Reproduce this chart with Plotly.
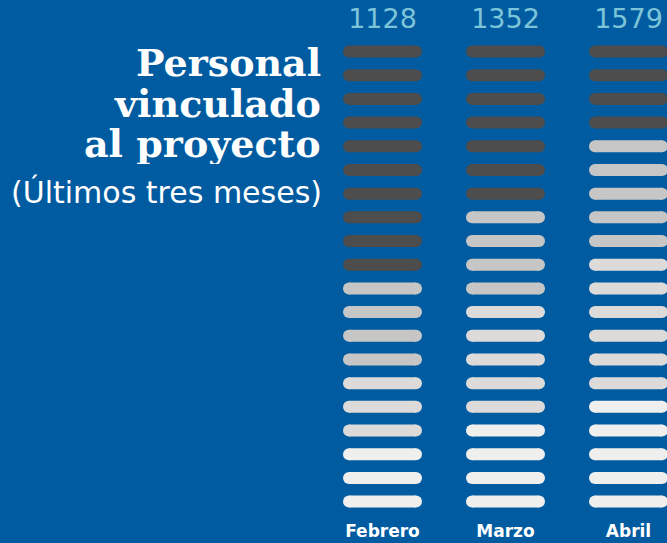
import plotly.graph_objects as go

# ---- data ----
months = ["Febrero", "Marzo", "Abril"]
totals = [1128, 1352, 1579]
# number of bars of each shade per month (top to bottom), 20 bars per column
dark_bars = [10, 7, 4]
mid_bars = [4, 4, 5]
light_bars = [3, 5, 6]
white_bars = [3, 4, 5]

title_lines = ["Personal", "vinculado", "al proyecto"]
subtitle = "(Últimos tres meses)"

# ---- style ----
W, H = 667, 543
BG = "#005ba1"
shade_colors = ["#4d4d4d", "#c6c6c6", "#dcdbd9", "#efefee"]
col_px = 123.0          # px per column unit
row_px = 23.69          # px per row unit
first_col_px = 382.5
first_row_px = 51.5
bar_len_px = 79.0
bar_h_px = 12.0
n_rows = 20

half_inner = (bar_len_px / 2 - bar_h_px / 2) / col_px

fig = go.Figure()

shade_counts = [dark_bars, mid_bars, light_bars, white_bars]
for s, counts in enumerate(shade_counts):
    xs, ys = [], []
    for c in range(len(months)):
        start = sum(shade_counts[k][c] for k in range(s)) + 1
        for r in range(start, start + counts[c]):
            xs += [c - half_inner, c + half_inner, None]
            ys += [r, r, None]
    fig.add_trace(go.Scatter(
        x=xs, y=ys, mode="lines+markers",
        line=dict(color=shade_colors[s], width=bar_h_px),
        marker=dict(color=shade_colors[s], size=bar_h_px, line=dict(width=0)),
        hoverinfo="skip", showlegend=False,
    ))

# totals on top
fig.add_trace(go.Scatter(
    x=list(range(len(months))), y=[1 - 30.5 / row_px] * len(months),
    mode="text", text=[str(t) for t in totals], textposition="middle center",
    textfont=dict(family="DejaVu Sans", size=27, color="#7cc4d8"),
    hoverinfo="skip", showlegend=False,
))
# month labels
fig.add_trace(go.Scatter(
    x=list(range(len(months))), y=[n_rows + 31 / row_px] * len(months),
    mode="text", text=months, textposition="middle center",
    textfont=dict(family="DejaVu Sans", size=17, color="#ffffff", weight="bold"),
    hoverinfo="skip", showlegend=False,
))

# title block
title_centers_px = [62, 103, 143]
title_box_h = [38, 38, 42]
for line, ypx, bh in zip(title_lines, title_centers_px, title_box_h):
    fig.add_annotation(
        x=(323 - first_col_px) / col_px, y=1 + (ypx - first_row_px) / row_px,
        xref="x", yref="y", text=line, showarrow=False,
        xanchor="right", yanchor="middle", height=bh,
        font=dict(family="DejaVu Serif", size=38, color="#ffffff", weight="bold"),
    )
fig.add_annotation(
    x=(324 - first_col_px) / col_px, y=1 + (192 - first_row_px) / row_px,
    xref="x", yref="y", text=subtitle, showarrow=False,
    xanchor="right", yanchor="middle",
    font=dict(family="DejaVu Sans", size=30, color="#ffffff"),
)

fig.update_xaxes(range=[-first_col_px / col_px, (W - first_col_px) / col_px],
                 visible=False, fixedrange=True)
fig.update_yaxes(range=[1 + (H - first_row_px) / row_px, 1 - first_row_px / row_px],
                 visible=False, fixedrange=True)
fig.update_layout(
    width=W, height=H, margin=dict(l=0, r=0, t=0, b=0),
    paper_bgcolor=BG, plot_bgcolor=BG,
)
fig.write_html(
    "out.html",
    config={"displayModeBar": False},
    post_script="document.body.style.margin='0';document.body.style.padding='0';"
                "document.body.style.background='" + BG + "';",
)
